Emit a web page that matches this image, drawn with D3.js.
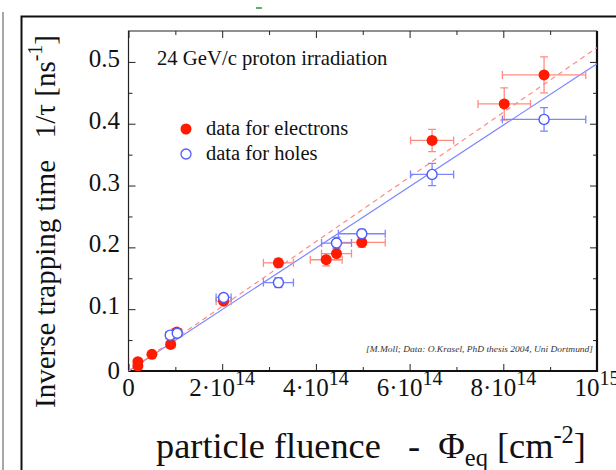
<!DOCTYPE html>
<html><head><meta charset="utf-8">
<script src="https://cdn.jsdelivr.net/npm/d3@7"></script>
<style>html,body{margin:0;padding:0;background:#fff;}svg{display:block;}</style>
</head><body>
<script>
// ---- data (fluence in units of 1e14 cm^-2, 1/tau in ns^-1) ----
const elecFluence = [0.2, 0.2, 0.5, 0.9, 1.03, 2.03, 3.2, 4.22, 4.44, 4.98, 6.48, 8.02, 8.87];
const elecValue   = [0.008, 0.015, 0.027, 0.043, 0.063, 0.113, 0.175, 0.180, 0.190, 0.208, 0.373, 0.432, 0.479];
const elecXErr    = [0.02, 0.02, 0.05, 0.09, 0.10, 0.16, 0.32, 0.34, 0.32, 0.50, 0.46, 0.56, 0.89];
const elecYErr    = [0.002, 0.003, 0.003, 0.004, 0.005, 0.005, 0.007, 0.010, 0.010, 0.008, 0.018, 0.026, 0.029];

const holeFluence = [0.89, 1.04, 2.03, 3.2, 4.44, 4.98, 6.48, 8.87];
const holeValue   = [0.058, 0.061, 0.119, 0.143, 0.207, 0.222, 0.318, 0.407];
const holeXErr    = [0.09, 0.10, 0.16, 0.32, 0.32, 0.50, 0.46, 0.89];
const holeYErr    = [0.004, 0.004, 0.005, 0.008, 0.009, 0.007, 0.018, 0.019];

const fitSlopeElec = 0.0523; // ns^-1 per 1e14 cm^-2
const fitSlopeHole = 0.0497;

const xMajorTicks = [0, 2, 4, 6, 8, 10];
const xMinorTicks = [1, 3, 5, 7, 9];
const xTickMantissa = ["0", "2\u00B710", "4\u00B710", "6\u00B710", "8\u00B710", "10"];
const xTickExponent = ["", "14", "14", "14", "14", "15"];
const yMajorTicks = [0, 0.1, 0.2, 0.3, 0.4, 0.5];
const yMinorTicks = [0.05, 0.15, 0.25, 0.35, 0.45];
const yTickLabels = ["0", "0.1", "0.2", "0.3", "0.4", "0.5"];

const title = "24 GeV/c proton irradiation";
const legendLabels = ["data for electrons", "data for holes"];
const credit = "[M.Moll; Data: O.Krasel, PhD thesis 2004, Uni Dortmund]";

// ---- layout ----
const W = 616, H = 470;
const L = 128.5, R = 597, T = 31, B = 371;
const serif = "'Liberation Serif','Times New Roman',Times,serif";
const RED = "#ff1a00", RED_LIGHT = "#ff8c80", BLUE = "#4d5cff", BLUE_LIGHT = "#7d86ff";

const svg = d3.select("body").append("svg").attr("width", W).attr("height", H)
  .style("font-family", serif);

const x = d3.scaleLinear().domain([0, 10]).range([L, R]);
const y = d3.scaleLinear().domain([0, 0.55]).range([B, T]);

// outer page decorations
svg.append("line").attr("x1", 3).attr("x2", 3).attr("y1", 12).attr("y2", H)
  .attr("stroke", "#8a8a8a").attr("stroke-width", 1.5);
svg.append("path").attr("d", `M21.5,${H} V16.5 H${W}`).attr("fill", "none")
  .attr("stroke", "#111").attr("stroke-width", 2);
svg.append("line").attr("x1", 256).attr("x2", 262).attr("y1", 8).attr("y2", 8)
  .attr("stroke", "#2a9a2a").attr("stroke-width", 1.5);

// axes (ticks pointing inward)
function styleAxis(g) { g.select(".domain").remove(); g.selectAll("line").attr("stroke", "#222"); g.selectAll("text").remove(); }
svg.append("g").attr("transform", `translate(0,${B})`).call(d3.axisBottom(x).tickValues(xMajorTicks).tickSize(-7)).call(styleAxis);
svg.append("g").attr("transform", `translate(0,${B})`).call(d3.axisBottom(x).tickValues(xMinorTicks).tickSize(-4)).call(styleAxis);
svg.append("g").attr("transform", `translate(0,${T})`).call(d3.axisTop(x).tickValues(xMajorTicks).tickSize(-7)).call(styleAxis);
svg.append("g").attr("transform", `translate(0,${T})`).call(d3.axisTop(x).tickValues(xMinorTicks).tickSize(-4)).call(styleAxis);
svg.append("g").attr("transform", `translate(${L},0)`).call(d3.axisLeft(y).tickValues(yMajorTicks).tickSize(-7)).call(styleAxis);
svg.append("g").attr("transform", `translate(${L},0)`).call(d3.axisLeft(y).tickValues(yMinorTicks).tickSize(-4)).call(styleAxis);
svg.append("g").attr("transform", `translate(${R},0)`).call(d3.axisRight(y).tickValues(yMajorTicks).tickSize(-7)).call(styleAxis);
svg.append("g").attr("transform", `translate(${R},0)`).call(d3.axisRight(y).tickValues(yMinorTicks).tickSize(-4)).call(styleAxis);

// frame
svg.append("path").attr("d", `M${L},${B} V${T} H${R}`).attr("fill", "none").attr("stroke", "#222").attr("stroke-width", 1.2);
svg.append("path").attr("d", `M${L},${B} H${R} V${T}`).attr("fill", "none").attr("stroke", "#111").attr("stroke-width", 2.2);

// tick labels
const xl = svg.append("g").attr("font-size", 25).attr("fill", "#111");
xTickMantissa.forEach((m, i) => {
  const t = xl.append("text").attr("x", x(xMajorTicks[i])).attr("y", 396).attr("text-anchor", "middle");
  t.append("tspan").text(m);
  if (xTickExponent[i]) t.append("tspan").attr("font-size", 20).attr("dy", -11).text(xTickExponent[i]);
});
const yl = svg.append("g").attr("font-size", 25).attr("fill", "#111").attr("text-anchor", "end");
yTickLabels.forEach((s, i) => {
  yl.append("text").attr("x", 120).attr("y", y(yMajorTicks[i]) + (i === 0 ? 8 : 5)).text(s);
});

// fit lines
const clip = svg.append("clipPath").attr("id", "plotclip").append("rect")
  .attr("x", L).attr("y", T).attr("width", R - L).attr("height", B - T);
const plot = svg.append("g").attr("clip-path", "url(#plotclip)");
const xEnd = x.domain()[1];
plot.append("line").attr("x1", x(0)).attr("y1", y(0)).attr("x2", x(xEnd)).attr("y2", y(fitSlopeHole * xEnd))
  .attr("stroke", BLUE_LIGHT).attr("stroke-width", 1.2);
plot.append("line").attr("x1", x(0)).attr("y1", y(0)).attr("x2", x(xEnd)).attr("y2", y(fitSlopeElec * xEnd))
  .attr("stroke", RED_LIGHT).attr("stroke-width", 1.2).attr("stroke-dasharray", "5,4");

// error bars
function errorBars(fl, val, xe, ye, color) {
  const g = plot.append("g").attr("stroke", color).attr("stroke-width", 1.3).attr("fill", "none");
  fl.forEach((f, i) => {
    const cx = x(f), cy = y(val[i]);
    const x0 = x(f - xe[i]), x1 = x(f + xe[i]), y0 = y(val[i] - ye[i]), y1 = y(val[i] + ye[i]);
    g.append("line").attr("x1", x0).attr("x2", x1).attr("y1", cy).attr("y2", cy);
    g.append("line").attr("x1", cx).attr("x2", cx).attr("y1", y0).attr("y2", y1);
    g.append("line").attr("x1", x0).attr("x2", x0).attr("y1", cy - 4).attr("y2", cy + 4);
    g.append("line").attr("x1", x1).attr("x2", x1).attr("y1", cy - 4).attr("y2", cy + 4);
    g.append("line").attr("x1", cx - 4).attr("x2", cx + 4).attr("y1", y0).attr("y2", y0);
    g.append("line").attr("x1", cx - 4).attr("x2", cx + 4).attr("y1", y1).attr("y2", y1);
  });
}
errorBars(elecFluence, elecValue, elecXErr, elecYErr, RED_LIGHT);
errorBars(holeFluence, holeValue, holeXErr, holeYErr, BLUE_LIGHT);

// points
plot.append("g").selectAll("circle").data(elecFluence).join("circle")
  .attr("cx", d => x(d)).attr("cy", (d, i) => y(elecValue[i])).attr("r", 5.5).attr("fill", RED);
plot.append("g").selectAll("circle").data(holeFluence).join("circle")
  .attr("cx", d => x(d)).attr("cy", (d, i) => y(holeValue[i])).attr("r", 5)
  .attr("fill", "#fff").attr("stroke", BLUE).attr("stroke-width", 1.4);

// title + legend
svg.append("text").attr("x", 157).attr("y", 65).attr("font-size", 20.7).attr("fill", "#111").text(title);
svg.append("circle").attr("cx", 186).attr("cy", 129).attr("r", 5.5).attr("fill", RED);
svg.append("circle").attr("cx", 186).attr("cy", 154).attr("r", 5).attr("fill", "#fff").attr("stroke", BLUE).attr("stroke-width", 1.3);
svg.append("text").attr("x", 206).attr("y", 135).attr("font-size", 20.5).attr("fill", "#111").text(legendLabels[0]);
svg.append("text").attr("x", 206).attr("y", 160).attr("font-size", 20.5).attr("fill", "#111").text(legendLabels[1]);

// credit
svg.append("text").attr("x", 366).attr("y", 352).attr("font-size", 8.5).attr("font-style", "italic")
  .attr("fill", "#333").attr("textLength", 227).attr("lengthAdjust", "spacingAndGlyphs").text(credit);

// axis titles
const xt = svg.append("text").attr("x", 371).attr("y", 458).attr("text-anchor", "middle")
  .attr("font-size", 36.3).attr("fill", "#111").attr("xml:space", "preserve");
xt.append("tspan").text("particle fluence   -  \u03A6");
xt.append("tspan").attr("font-size", 24.5).attr("dy", 8).text("eq");
xt.append("tspan").attr("dy", -8).text(" [cm");
xt.append("tspan").attr("font-size", 24.5).attr("dy", -15).text("-2");
xt.append("tspan").attr("dy", 15).text("]");

const yt = svg.append("text").attr("transform", "translate(55,221.5) rotate(-90)").attr("text-anchor", "middle")
  .attr("font-size", 29).attr("fill", "#111").attr("xml:space", "preserve");
yt.append("tspan").text("Inverse trapping time   1/\u03C4 [ns");
yt.append("tspan").attr("font-size", 20).attr("dy", -13).text("-1");
yt.append("tspan").attr("dy", 13).text("]");
</script>
</body></html>
